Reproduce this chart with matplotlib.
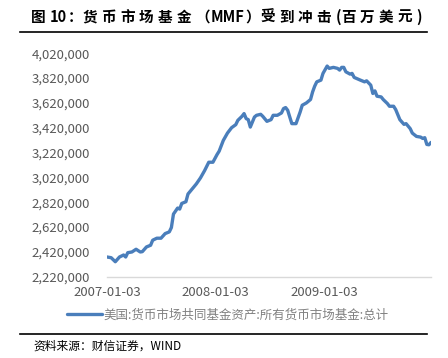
import matplotlib
matplotlib.use('Agg')
import matplotlib.pyplot as plt
from matplotlib.lines import Line2D
from matplotlib.ticker import FuncFormatter
import pandas as pd

plt.rcParams['font.family'] = ['Noto Sans CJK SC', 'DejaVu Sans']

# weekly MMF assets (millions USD)
dates = [
    '2007-01-03', '2007-01-17', '2007-01-31', '2007-02-14', '2007-02-28', '2007-03-07',
    '2007-03-14', '2007-03-28', '2007-04-11', '2007-04-25', '2007-05-02', '2007-05-16',
    '2007-05-30', '2007-06-06', '2007-06-20', '2007-07-04', '2007-07-18', '2007-08-01',
    '2007-08-08', '2007-08-15', '2007-08-29', '2007-09-05', '2007-09-12', '2007-09-26',
    '2007-10-03', '2007-10-17', '2007-10-31', '2007-11-14', '2007-11-28', '2007-12-12',
    '2007-12-26', '2008-01-09', '2008-01-16', '2008-01-30', '2008-02-13', '2008-02-27',
    '2008-03-12', '2008-03-19', '2008-04-02', '2008-04-09', '2008-04-16', '2008-04-23',
    '2008-04-30', '2008-05-14', '2008-05-21', '2008-06-04', '2008-06-11', '2008-06-25',
    '2008-07-09', '2008-07-16', '2008-07-30', '2008-08-13', '2008-08-20', '2008-08-27',
    '2008-09-03', '2008-09-10', '2008-09-17', '2008-10-01', '2008-10-15', '2008-10-22',
    '2008-11-05', '2008-11-19', '2008-11-26', '2008-12-03', '2008-12-10', '2008-12-24',
    '2008-12-31', '2009-01-14', '2009-01-21', '2009-02-04', '2009-02-18', '2009-02-25',
    '2009-03-04', '2009-03-11', '2009-03-18', '2009-04-01', '2009-04-08', '2009-04-15',
    '2009-05-06', '2009-05-20', '2009-05-27', '2009-06-10', '2009-06-17', '2009-06-24',
    '2009-07-01', '2009-07-15', '2009-07-22', '2009-08-05', '2009-08-12', '2009-08-26',
    '2009-09-02', '2009-09-16', '2009-09-23', '2009-09-30', '2009-10-07', '2009-10-21',
    '2009-10-28', '2009-11-11', '2009-11-25', '2009-12-02', '2009-12-09', '2009-12-16',
    '2009-12-23', '2009-12-30',
]
assets = [
    2378700, 2373100, 2340700, 2378700, 2394900, 2378700,
    2413600, 2419200, 2441100, 2419200, 2421700, 2459700,
    2473500, 2514000, 2530200, 2530200, 2567400, 2581200,
    2616000, 2724500, 2773100, 2765000, 2810300, 2824100,
    2886400, 2926900, 2967400, 3016000, 3075100, 3142300,
    3142300, 3204600, 3231400, 3318000, 3377100, 3420800,
    3445100, 3479900, 3512300, 3534200, 3493700, 3485600,
    3425700, 3506600, 3520400, 3528500, 3512300, 3471800,
    3485600, 3520400, 3520400, 3539000, 3574700, 3582800,
    3560900, 3506600, 3453200, 3453200, 3547100, 3601400,
    3620000, 3648000, 3709100, 3755200, 3790000, 3803800,
    3858100, 3917200, 3898500, 3906600, 3898500, 3884800,
    3906600, 3906600, 3871000, 3852400, 3858100, 3825700,
    3803800, 3790000, 3798100, 3763300, 3696100, 3717200,
    3674300, 3668600, 3647500, 3615200, 3593300, 3593300,
    3566600, 3485600, 3466200, 3447500, 3453200, 3412700,
    3377100, 3350400, 3344700, 3334200, 3339900, 3285600,
    3283100, 3301800,
]
xtick_labels = ['2007-01-03', '2008-01-03', '2009-01-03']
yticks = list(range(2220000, 4020001, 200000))

title_parts = ['图', '10', '：', '货', '币', '市', '场', '基', '金', '（', 'MMF', '）',
               '受', '到', '冲', '击', '(', '百', '万', '美', '元', ')']
series_name = '美国:货币市场共同基金资产:所有货币市场基金:总计'
source = '资料来源：财信证券，WIND'

W, H = 448, 358
fig = plt.figure(figsize=(W / 100, H / 100), dpi=100)
ax = fig.add_axes([107 / W, 1 - 276.7 / H, (431 - 107) / W, (276.7 - 53.3) / H])

x = pd.to_datetime(dates)
line, = ax.plot(x, assets, color='#4a7ebb', lw=2.4, solid_capstyle='round',
                solid_joinstyle='round', label=series_name)

ax.set_xlim(x[0], x[-1])
ax.set_ylim(yticks[0], yticks[-1])
ax.set_yticks(yticks)
ax.yaxis.set_major_formatter(FuncFormatter(lambda v, p: f'{v:,.0f}'))
ax.set_xticks(pd.to_datetime(xtick_labels))
ax.set_xticklabels(xtick_labels)

for s in ['top', 'right', 'left']:
    ax.spines[s].set_visible(False)
ax.spines['bottom'].set_color('#d9d9d9')
ax.spines['bottom'].set_linewidth(1.0)
ax.tick_params(axis='y', length=0, pad=12, labelsize=9.5, labelcolor='#595959')
ax.tick_params(axis='x', length=0, pad=7, labelsize=9.5, labelcolor='#595959')

fig.legend(handles=[line], loc='center', bbox_to_anchor=(228 / W, 1 - 315 / H),
           frameon=False, fontsize=9, handlelength=2.8, handletextpad=0.1,
           labelcolor='#808080')

# title with wide letter spacing, one piece at a time
renderer = fig.canvas.get_renderer()
cur = 31.0
for part in title_parts:
    t = fig.text(cur / W, 1 - 17 / H, part, fontsize=10.5, fontweight='bold',
                 ha='left', va='center')
    w = t.get_window_extent(renderer).width
    gap = 0.5 if part in ['(', ')', '10', 'MMF', '（', '）', '：'] else 4.2
    cur += w + gap

fig.add_artist(Line2D([20 / W, 427 / W], [1 - 32 / H, 1 - 32 / H], color='black', lw=1.2))
fig.add_artist(Line2D([20 / W, 427 / W], [1 - 334 / H, 1 - 334 / H], color='black', lw=1.2))
fig.text(33 / W, 1 - 346 / H, source, fontsize=8.5, style='italic', ha='left', va='center')

fig.savefig('out.png', dpi=100)
